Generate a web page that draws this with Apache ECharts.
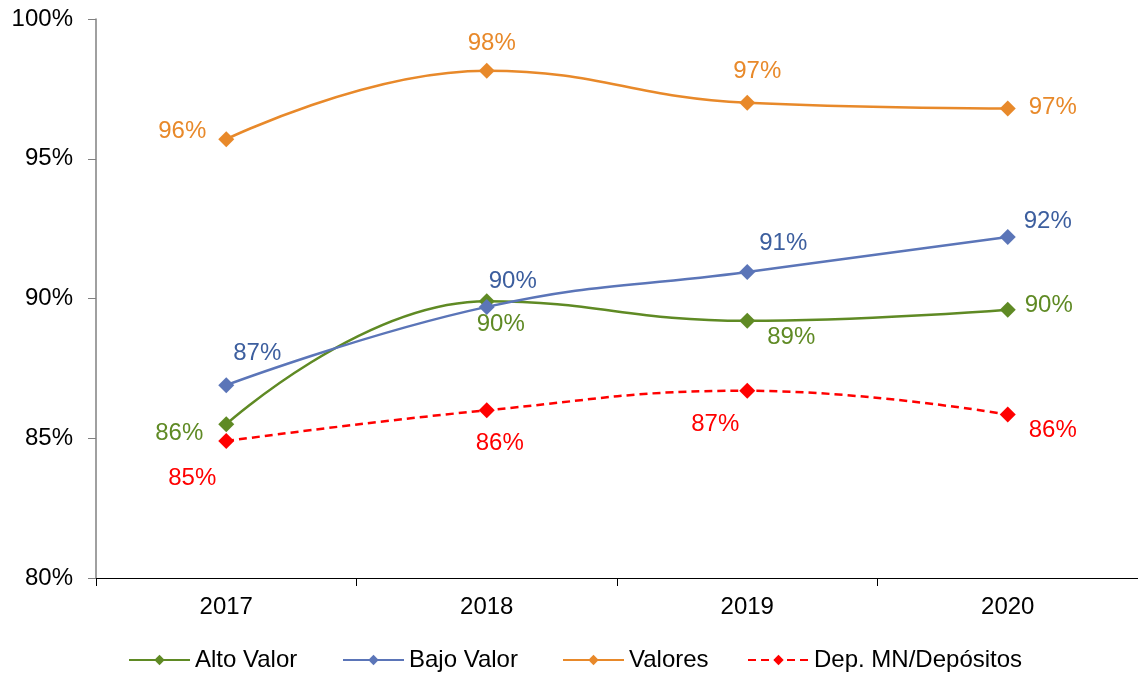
<!DOCTYPE html>
<html>
<head>
<meta charset="utf-8">
<script src="https://cdn.jsdelivr.net/npm/echarts@6/dist/echarts.min.js"></script>
<style>
  html, body { margin: 0; padding: 0; background: #fff; }
  #chart { width: 1138px; height: 675px; }
</style>
</head>
<body>
<div id="chart"></div>
<script>
// datos
const years = ['2017', '2018', '2019', '2020']
const altoValor = [85.5, 89.9, 89.2, 89.6]
const bajoValor = [86.9, 89.7, 90.95, 92.2]
const valores = [95.7, 98.15, 97.0, 96.8]
const depMN = [84.9, 86.0, 86.7, 85.85]
const yTicks = [80, 85, 90, 95, 100]
const seriesNames = ['Alto Valor', 'Bajo Valor', 'Valores', 'Dep. MN/Depósitos']

// posición de las etiquetas (desplazamiento respecto al punto)
const altoOffsets = [[-47, 9], [14, 23], [44, 17], [41, -4]]
const bajoOffsets = [[31, -32], [26, -26], [36, -29], [40, -16]]
const valoresOffsets = [[-44, -8], [5, -27], [10, -31], [45, -1]]
const depOffsets = [[-34, 37], [13, 33], [-32, 34], [45, 16]]
const legendLefts = [128, 342, 562, 747]

const FONT = 'Liberation Sans, Arial, sans-serif'

const withLabels = (values, offsets, color) =>
  values.map((v, i) => ({
    value: v,
    label: { show: true, position: 'inside', offset: offsets[i], color: color }
  }))

const makeSeries = (name, values, offsets, lineColor, labelColor, dashed) => ({
  name: name,
  type: 'line',
  smooth: 0.45,
  symbol: 'diamond',
  symbolSize: 16,
  itemStyle: { color: lineColor },
  lineStyle: { color: lineColor, width: 2.5, type: dashed ? [8, 5] : 'solid' },
  label: {
    show: true,
    fontFamily: FONT,
    fontSize: 24,
    formatter: p => Math.round(p.value) + '%'
  },
  emphasis: { disabled: true },
  data: withLabels(values, offsets, labelColor)
})

// una leyenda por serie para colocarlas como en el original
const legends = seriesNames.map((name, i) => ({
  top: 648,
  left: legendLefts[i],
  padding: 0,
  itemWidth: 61,
  itemHeight: 13,
  textStyle: { fontFamily: FONT, fontSize: 24, color: '#000' },
  data: [name]
}))

const chart = echarts.init(document.getElementById('chart'))
chart.setOption({
  animation: false,
  backgroundColor: '#fff',
  grid: { left: 96, top: 19, width: 1047, height: 559, containLabel: false },
  legend: legends,
  xAxis: {
    type: 'category',
    data: years,
    boundaryGap: true,
    axisLine: { lineStyle: { color: '#000', width: 1 } },
    axisTick: { show: true, length: 8, lineStyle: { color: '#000' } },
    axisLabel: { fontFamily: FONT, fontSize: 24, color: '#000', margin: 17 },
    splitLine: { show: false }
  },
  yAxis: {
    type: 'value',
    min: yTicks[0],
    max: yTicks[yTicks.length - 1],
    interval: 5,
    axisLine: { show: true, lineStyle: { color: '#808080', width: 1.5 } },
    axisTick: { show: true, length: 8, lineStyle: { color: '#808080' } },
    axisLabel: {
      fontFamily: FONT, fontSize: 24, color: '#000', margin: 23,
      padding: [4, 0, 0, 0], formatter: '{value}%'
    },
    splitLine: { show: false }
  },
  series: [
    makeSeries(seriesNames[0], altoValor, altoOffsets, '#5F8A24', '#5F8A24', false),
    makeSeries(seriesNames[1], bajoValor, bajoOffsets, '#5B75B8', '#3C5E9E', false),
    makeSeries(seriesNames[2], valores, valoresOffsets, '#E8892A', '#E8892A', false),
    makeSeries(seriesNames[3], depMN, depOffsets, '#FF0000', '#FF0000', true)
  ]
})
</script>
</body>
</html>
